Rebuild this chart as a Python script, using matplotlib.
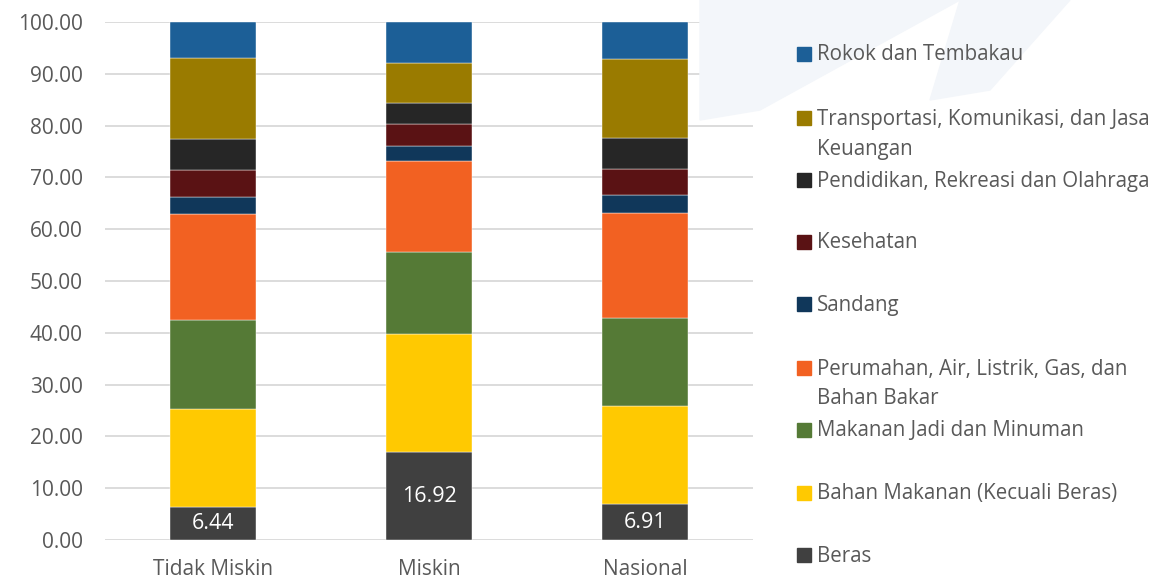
import numpy as np
import matplotlib
matplotlib.use('Agg')
import matplotlib.pyplot as plt
from matplotlib.patches import Rectangle, Polygon

plt.rcParams['font.family'] = ['Open Sans', 'DejaVu Sans']

# ---------------- data ----------------
categories = ['Tidak Miskin', 'Miskin', 'Nasional']

# bottom -> top
series = [
    'Beras',
    'Bahan Makanan (Kecuali Beras)',
    'Makanan Jadi dan Minuman',
    'Perumahan, Air, Listrik, Gas, dan\nBahan Bakar',
    'Sandang',
    'Kesehatan',
    'Pendidikan, Rekreasi dan Olahraga',
    'Transportasi, Komunikasi, dan Jasa\nKeuangan',
    'Rokok dan Tembakau',
]

beras        = [6.44, 16.92, 6.91]
bahan_makan  = [18.8, 22.9, 18.9]
makanan_jadi = [17.2, 15.7, 17.1]
perumahan    = [20.4, 17.6, 20.3]
sandang      = [3.3, 3.0, 3.4]
kesehatan    = [5.2, 4.1, 5.0]
pendidikan   = [6.0, 4.2, 6.0]
transportasi = [15.8, 7.7, 15.3]
rokok        = [6.86, 7.88, 7.09]

values = [beras, bahan_makan, makanan_jadi, perumahan, sandang,
          kesehatan, pendidikan, transportasi, rokok]

colors = ['#404040', '#FFC901', '#557A36', '#F26122', '#10375A',
          '#5A1214', '#262626', '#9A7B00', '#1C5F97']

TICK = '#595959'
GRID = '#D9D9D9'

W, H = 1158, 580
fig = plt.figure(figsize=(W / 100, H / 100), dpi=100)

# very faint watermark streaks in the background (top right)
for pts in ([(700, 0), (960, 0), (760, 110), (700, 120)],
            [(960, 0), (1070, 0), (990, 90), (930, 100)]):
    fig.patches.append(Polygon([(px / W, 1 - py / H) for px, py in pts],
                               closed=True, color='#F3F6FA',
                               transform=fig.transFigure, figure=fig, zorder=0))

ax = fig.add_axes([105 / W, 40 / H, 648 / W, 518 / H])
ax.patch.set_alpha(0)

x = np.arange(len(categories))
bottom = np.zeros(len(categories))
for vals, col in zip(values, colors):
    ax.bar(x, vals, 0.40, bottom=bottom, color=col, edgecolor='#FFFFFF',
           linewidth=0.3, zorder=3)
    bottom += np.array(vals)

# value labels on Beras
for xi, v in zip(x, beras):
    ax.text(xi, v / 2, f'{v:.2f}', ha='center', va='center',
            color='white', fontsize=15.5, zorder=4)

ax.set_xlim(-0.5, 2.5)
ax.set_ylim(0, 100)
ax.set_yticks(np.arange(0, 101, 10))
ax.set_yticklabels([f'{t:.2f}' for t in np.arange(0, 101, 10)])
ax.set_xticks(x)
ax.set_xticklabels(categories)
ax.tick_params(axis='both', length=0, labelsize=15, colors=TICK)
ax.tick_params(axis='y', pad=16)
ax.tick_params(axis='x', pad=14)
ax.yaxis.grid(True, color=GRID, linewidth=1.3, zorder=0)
ax.set_axisbelow(True)
for s in ax.spines.values():
    s.set_visible(False)

# legend, drawn by hand to match spacing (y of first line, px from top)
leg_y = [555, 493, 430, 368, 304, 242, 180, 118, 54]
for name, col, yy in zip(series, colors, leg_y):
    fig.patches.append(Rectangle((797 / W, 1 - (yy + 7) / H), 14 / W, 14 / H,
                                 color=col, transform=fig.transFigure, figure=fig))
    for i, line in enumerate(name.split('\n')):
        fig.text(817 / W, 1 - (yy + 1 + 30 * i) / H, line, ha='left', va='center',
                 fontsize=14.8, color=TICK)

fig.savefig('out.png', dpi=100, facecolor='white')
